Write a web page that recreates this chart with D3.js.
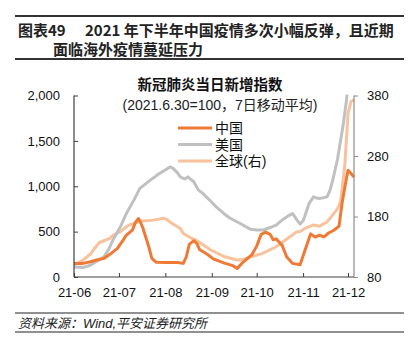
<!DOCTYPE html>
<html>
<head>
<meta charset="utf-8">
<script src="https://cdn.jsdelivr.net/npm/d3@7"></script>
<style>
  html, body { margin: 0; padding: 0; background: #fff; }
  svg { display: block; font-family: "Liberation Sans", Arial, "Noto Sans CJK SC", sans-serif; }
</style>
</head>
<body>
<svg id="chart" width="415" height="355"></svg>
<script>
// ---------------- data ----------------
const monthTicks = ["2021-06-01","2021-07-01","2021-08-01","2021-09-01","2021-10-01","2021-11-01","2021-12-01"];
const leftTicks = [0, 500, 1000, 1500, 2000];
const rightTicks = [80, 180, 280, 380];
const seriesNames = ["中国", "美国", "全球(右)"];

const chinaDates = ["2021-06-01","2021-06-07","2021-06-12","2021-06-16","2021-06-21","2021-06-25","2021-06-30",
  "2021-07-03","2021-07-06","2021-07-10","2021-07-12","2021-07-14","2021-07-15","2021-07-17","2021-07-21","2021-07-23","2021-07-26",
  "2021-08-02","2021-08-09","2021-08-13","2021-08-15","2021-08-17","2021-08-20","2021-08-22","2021-08-24","2021-08-29",
  "2021-09-02","2021-09-09","2021-09-15","2021-09-18","2021-09-22","2021-09-28",
  "2021-10-01","2021-10-04","2021-10-07","2021-10-10","2021-10-12","2021-10-14","2021-10-18","2021-10-21","2021-10-25","2021-10-30",
  "2021-11-02","2021-11-06","2021-11-09","2021-11-12","2021-11-15","2021-11-18","2021-11-21","2021-11-25","2021-11-27","2021-11-29",
  "2021-12-01","2021-12-03","2021-12-05"];
const chinaValues = [150,150,168,187,205,250,315,
  388,462,517,600,645,620,540,330,205,162,
  160,160,150,223,360,400,370,300,250,
  200,155,125,95,165,250,
  340,470,495,470,410,420,350,223,150,135,
  280,475,440,460,443,485,510,560,811,1000,
  1177,1141,1100];

const usDates = ["2021-06-01","2021-06-07","2021-06-12","2021-06-16","2021-06-21","2021-06-24","2021-06-27",
  "2021-07-02","2021-07-06","2021-07-11","2021-07-15","2021-07-22","2021-07-28",
  "2021-08-02","2021-08-04","2021-08-06","2021-08-09","2021-08-11","2021-08-14","2021-08-16","2021-08-20","2021-08-23","2021-08-26","2021-08-31",
  "2021-09-04","2021-09-09","2021-09-13","2021-09-20","2021-09-27",
  "2021-10-01","2021-10-05","2021-10-10","2021-10-14","2021-10-19","2021-10-23","2021-10-25","2021-10-28","2021-10-30",
  "2021-11-01","2021-11-02","2021-11-05","2021-11-08","2021-11-10","2021-11-12","2021-11-17","2021-11-19","2021-11-21","2021-11-24","2021-11-26","2021-11-28","2021-11-30",
  "2021-12-01"];
const usValues = [110,105,130,170,223,300,407,
  553,700,847,976,1067,1141,
  1190,1213,1200,1150,1103,1080,1103,1050,960,921,840,
  773,700,650,590,525,
  517,517,545,572,640,682,700,627,583,
  620,663,811,883,870,866,883,957,1080,1300,1500,1700,1950,
  2150];

const globalDates = ["2021-06-01","2021-06-07","2021-06-12","2021-06-14","2021-06-18","2021-06-25","2021-06-27",
  "2021-07-02","2021-07-06","2021-07-08","2021-07-15","2021-07-24","2021-07-31",
  "2021-08-02","2021-08-04","2021-08-11","2021-08-13","2021-08-17","2021-08-22","2021-08-24","2021-08-31",
  "2021-09-09","2021-09-18","2021-09-22","2021-09-27",
  "2021-10-05","2021-10-14","2021-10-23","2021-10-28","2021-10-30",
  "2021-11-02","2021-11-08","2021-11-12","2021-11-17","2021-11-19","2021-11-24","2021-11-26","2021-11-28","2021-11-29","2021-11-30",
  "2021-12-01","2021-12-03","2021-12-05"];
const globalValues = [100,108,118,125,137,144,149,
  155,163,166,172,174,177,
  175,171,160,152,146,140,137,125,
  114,108,109,113,
  119,130,146,155,155,
  160,166,164,171,177,193,204,245,270,310,
  350,370,373];

const colors = ["#EE7A36", "#C0C0C0", "#F8C29C"];

// ---------------- chart ----------------
const svg = d3.select("#chart");
const parse = d3.timeParse("%Y-%m-%d");

const plot = { left: 74, right: 354, top: 95.5, bottom: 277 };

const x = d3.scaleTime()
  .domain([parse("2021-06-01"), parse("2021-12-05")])
  .range([plot.left, plot.right]);
const yL = d3.scaleLinear().domain([0, 2000]).range([plot.bottom, plot.top]);
const yR = d3.scaleLinear().domain([80, 380]).range([plot.bottom, plot.top]);

// header
svg.append("line").attr("x1", 15).attr("x2", 404).attr("y1", 16).attr("y2", 16)
  .attr("stroke", "#333").attr("stroke-width", 2);
svg.append("line").attr("x1", 15).attr("x2", 404).attr("y1", 59).attr("y2", 59)
  .attr("stroke", "#333").attr("stroke-width", 2);
const titleFont = '"Noto Sans CJK SC", "Liberation Sans", sans-serif';
svg.append("text").attr("x", 18).attr("y", 36).attr("font-size", 15).attr("font-weight", "bold")
  .attr("font-family", titleFont).attr("fill", "#222").text("图表49");
svg.append("text").attr("x", 85).attr("y", 36).attr("font-size", 15).attr("font-weight", "bold")
  .attr("font-family", titleFont).attr("fill", "#222").text("2021 年下半年中国疫情多次小幅反弹，且近期");
svg.append("text").attr("x", 53).attr("y", 55).attr("font-size", 15).attr("font-weight", "bold")
  .attr("font-family", titleFont).attr("fill", "#222").text("面临海外疫情蔓延压力");

// chart title
svg.append("text").attr("x", 210).attr("y", 90).attr("text-anchor", "middle")
  .attr("font-size", 14.5).attr("font-weight", "bold").attr("font-family", titleFont)
  .attr("fill", "#111").text("新冠肺炎当日新增指数");
svg.append("text").attr("x", 220).attr("y", 110).attr("text-anchor", "middle")
  .attr("font-size", 14).attr("fill", "#222").text("(2021.6.30=100，7日移动平均)");

// clip
svg.append("clipPath").attr("id", "plotclip").append("rect")
  .attr("x", plot.left).attr("y", plot.top - 1)
  .attr("width", plot.right - plot.left + 2).attr("height", plot.bottom - plot.top + 1);

const mk = (dates, vals) => dates.map((d, i) => ({ date: parse(d), v: vals[i] }));
const chinaData = mk(chinaDates, chinaValues);
const usData = mk(usDates, usValues);
const globalData = mk(globalDates, globalValues);

const lineL = d3.line().x(d => x(d.date)).y(d => yL(d.v)).curve(d3.curveLinear);
const lineR = d3.line().x(d => x(d.date)).y(d => yR(d.v)).curve(d3.curveLinear);

const g = svg.append("g").attr("clip-path", "url(#plotclip)");
g.append("path").datum(globalData).attr("d", lineR).attr("fill", "none")
  .attr("stroke", colors[2]).attr("stroke-width", 3).attr("stroke-linejoin", "round");
g.append("path").datum(usData).attr("d", lineL).attr("fill", "none")
  .attr("stroke", colors[1]).attr("stroke-width", 3).attr("stroke-linejoin", "round");
g.append("path").datum(chinaData).attr("d", lineL).attr("fill", "none")
  .attr("stroke", colors[0]).attr("stroke-width", 3).attr("stroke-linejoin", "round");

// axes
const axisL = svg.append("g").attr("transform", `translate(${plot.left},0)`)
  .call(d3.axisLeft(yL).tickValues(leftTicks).tickSize(-4).tickPadding(14).tickFormat(d3.format(",")));
const axisR = svg.append("g").attr("transform", `translate(${plot.right},0)`)
  .call(d3.axisRight(yR).tickValues(rightTicks).tickSize(4).tickPadding(9));
const axisB = svg.append("g").attr("transform", `translate(0,${plot.bottom})`)
  .call(d3.axisBottom(x).tickValues(monthTicks.map(parse)).tickSize(-4).tickPadding(11)
    .tickFormat(d3.timeFormat("%y-%m")));

[axisL, axisR, axisB].forEach(a => {
  a.selectAll("text").attr("font-size", 13).attr("fill", "#111")
    .attr("font-family", '"Liberation Sans", Arial, sans-serif');
  a.select(".domain").attr("stroke-width", 1.2);
});
axisL.selectAll("line, .domain").attr("stroke", "#404040");
axisB.selectAll("line, .domain").attr("stroke", "#404040");
axisR.selectAll("line, .domain").attr("stroke", "#8c8c8c");
axisL.select(".domain").attr("d", `M0,${plot.top}V${plot.bottom}`);
axisR.select(".domain").attr("d", `M0,${plot.top}V${plot.bottom}`);
axisB.select(".domain").attr("d", `M${plot.left},0H${plot.right}`);

// legend
const legend = svg.append("g");
seriesNames.forEach((name, i) => {
  const yy = 128 + i * 16.5;
  legend.append("line").attr("x1", 178).attr("x2", 212).attr("y1", yy).attr("y2", yy)
    .attr("stroke", colors[i]).attr("stroke-width", 3);
  legend.append("text").attr("x", 215).attr("y", yy + 5).attr("font-size", 14)
    .attr("fill", "#111").text(name);
});

// footer
svg.append("line").attr("x1", 15).attr("x2", 404).attr("y1", 313).attr("y2", 313)
  .attr("stroke", "#222").attr("stroke-width", 1.2);
svg.append("line").attr("x1", 15).attr("x2", 404).attr("y1", 332).attr("y2", 332)
  .attr("stroke", "#222").attr("stroke-width", 1.2);
svg.append("text").attr("x", 18).attr("y", 328).attr("font-size", 13).attr("font-style", "italic")
  .attr("fill", "#222").text("资料来源：Wind,平安证券研究所");
</script>
</body>
</html>
